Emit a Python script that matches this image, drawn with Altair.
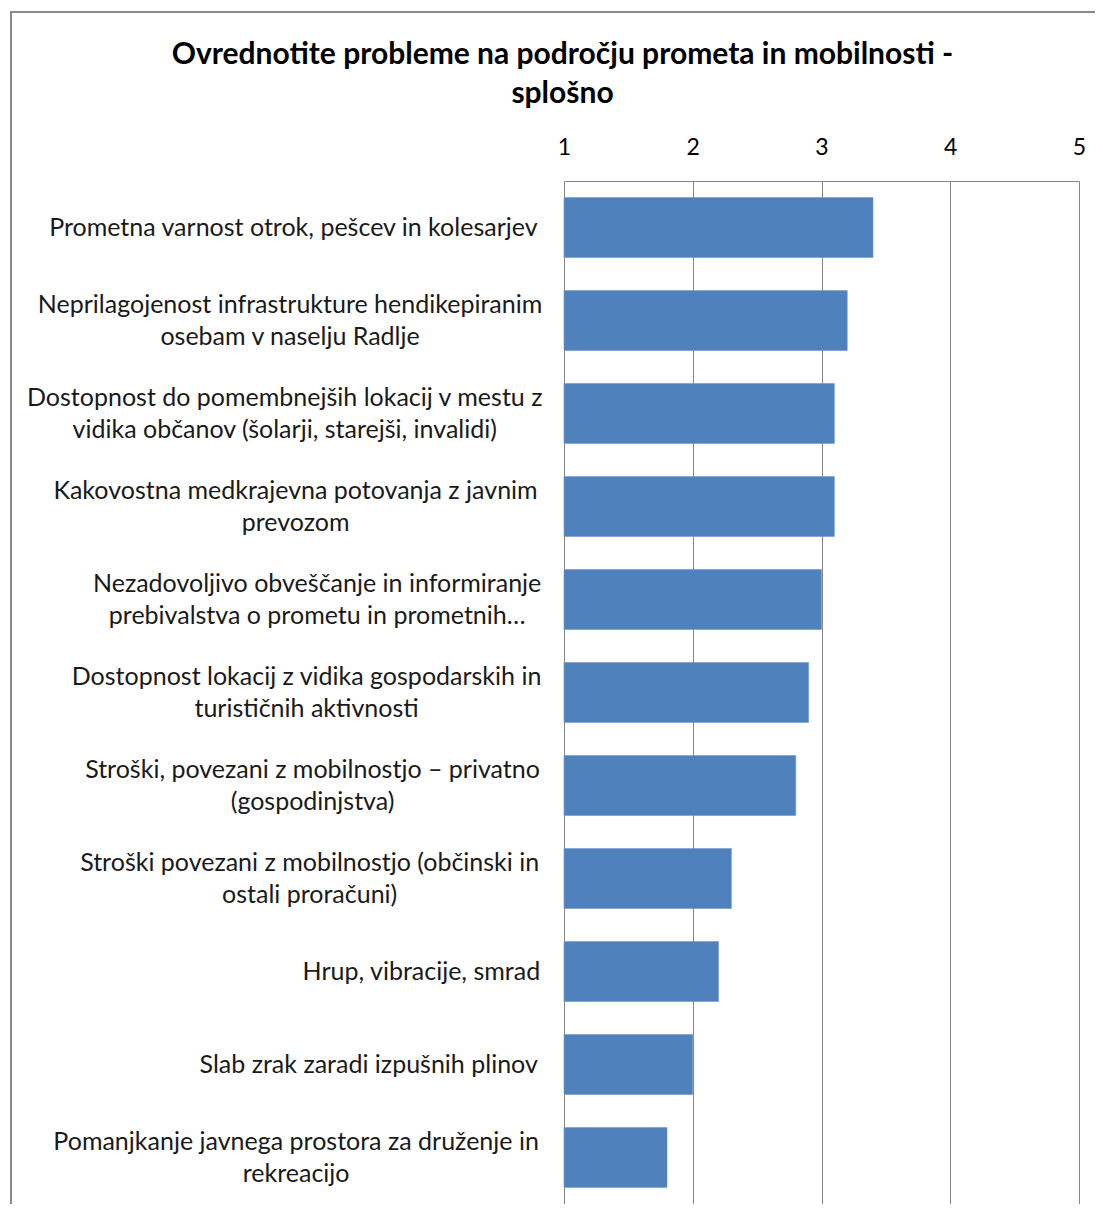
import altair as alt
import pandas as pd

line1 = [
    "Prometna varnost otrok, pešcev in kolesarjev",
    "Neprilagojenost infrastrukture hendikepiranim",
    "Dostopnost do pomembnejših lokacij v mestu z",
    "Kakovostna medkrajevna potovanja z javnim",
    "Nezadovoljivo obveščanje in informiranje",
    "Dostopnost lokacij z vidika gospodarskih in",
    "Stroški, povezani z mobilnostjo – privatno",
    "Stroški povezani z mobilnostjo (občinski in",
    "Hrup, vibracije, smrad",
    "Slab zrak zaradi izpušnih plinov",
    "Pomanjkanje javnega prostora za druženje in",
]
line2 = [
    "",
    "osebam v naselju Radlje",
    "vidika občanov (šolarji, starejši, invalidi)",
    "prevozom",
    "prebivalstva o prometu in prometnih…",
    "turističnih aktivnosti",
    "(gospodinjstva)",
    "ostali proračuni)",
    "",
    "",
    "rekreacijo",
]
values = [3.4, 3.2, 3.1, 3.1, 3.0, 2.9, 2.8, 2.3, 2.2, 2.0, 1.8]
axis_ticks = [1, 2, 3, 4, 5]
title_lines = ["Ovrednotite probleme na področju prometa in mobilnosti -", "splošno"]

categories = [(a + " " + b).strip() for a, b in zip(line1, line2)]
df = pd.DataFrame({"category": categories, "l1": line1, "l2": line2, "value": values})

W, H = 515, 1023
FONT = "Lato"
LABEL_SIZE = 25
LINE_H = 32
GRID = "#868686"
RIGHT_GAP = 26


def count(cls):
    return ("(length(datum.l1) - length(replace(datum.l1, regexp('[" + cls
            + "]', 'g'), '')))")


# approximate text width of the first (longest) line, by glyph class
n_v = count("ijl ,.()")
n_t = count("rtf")
n_s = count("szcšžč")
n_m = count("mw")
width_expr = (f"6.2*{n_v} + 8.7*{n_t} + 12*{n_s} + 21*{n_m} + "
              f"13.2*(length(datum.l1) - {n_v} - {n_t} - {n_s} - {n_m})")

y_scale = alt.Scale(domain=categories, paddingInner=0.355, paddingOuter=0.1775)

bars = alt.Chart(df).mark_bar(color="#4F81BD", stroke="#7299cc", strokeWidth=0.6).encode(
    x=alt.X(
        "value:Q",
        scale=alt.Scale(domain=[1, 5], nice=False, zero=False),
        axis=alt.Axis(
            orient="top", values=axis_ticks, format="d", title=None,
            grid=True, gridColor=GRID, gridWidth=1, ticks=False,
            domainColor=GRID, domainWidth=1, labelFlush=False,
            labelFont=FONT, labelFontSize=23, labelColor="black",
            labelPadding=22,
        ),
    ),
    x2=alt.datum(1),
    y=alt.Y(
        "category:N", scale=y_scale, sort=categories,
        axis=alt.Axis(labels=False, ticks=False, title=None, grid=False,
                      domain=True, domainColor=GRID, domainWidth=1),
    ),
)

label_base = alt.Chart(df).transform_calculate(
    lab="datum.l2 ? [datum.l1, datum.l2] : datum.l1",
    cx=f"-{RIGHT_GAP} - ({width_expr}) / 2",
)


def label_layer(filter_expr, dy):
    return label_base.transform_filter(filter_expr).mark_text(
        align="center", baseline="middle", font=FONT, fontSize=LABEL_SIZE,
        lineHeight=LINE_H, color="#1a1a1a", dy=dy,
    ).encode(
        x=alt.X("cx:Q", scale=None),
        y=alt.Y("category:N", scale=y_scale, sort=categories, axis=None),
        text="lab:N",
    )


labels_one = label_layer("datum.l2 == ''", 0)
labels_two = label_layer("datum.l2 != ''", -LINE_H / 2)

frame_left = alt.Chart(df).mark_rule(color="#8a8a8a", strokeWidth=2).encode(
    x=alt.value(-553), y=alt.value(-169), y2=alt.value(H + 40)
)
frame_top = alt.Chart(df).mark_rule(color="#8a8a8a", strokeWidth=2).encode(
    x=alt.value(-554), x2=alt.value(W + 40), y=alt.value(-169)
)

chart = alt.layer(frame_left, frame_top, bars, labels_one, labels_two).properties(
    width=W,
    height=H,
    title=alt.TitleParams(
        text=title_lines, font=FONT, fontSize=30, fontWeight="bold",
        color="black", anchor="middle", dx=-259, offset=-98, lineHeight=39,
    ),
    autosize=alt.AutoSizeParams(type="none"),
    padding={"left": 556, "top": 173, "right": 16, "bottom": 0},
).configure_view(stroke=None)

chart.save("out.html", embed_options={"renderer": "svg", "actions": False})
